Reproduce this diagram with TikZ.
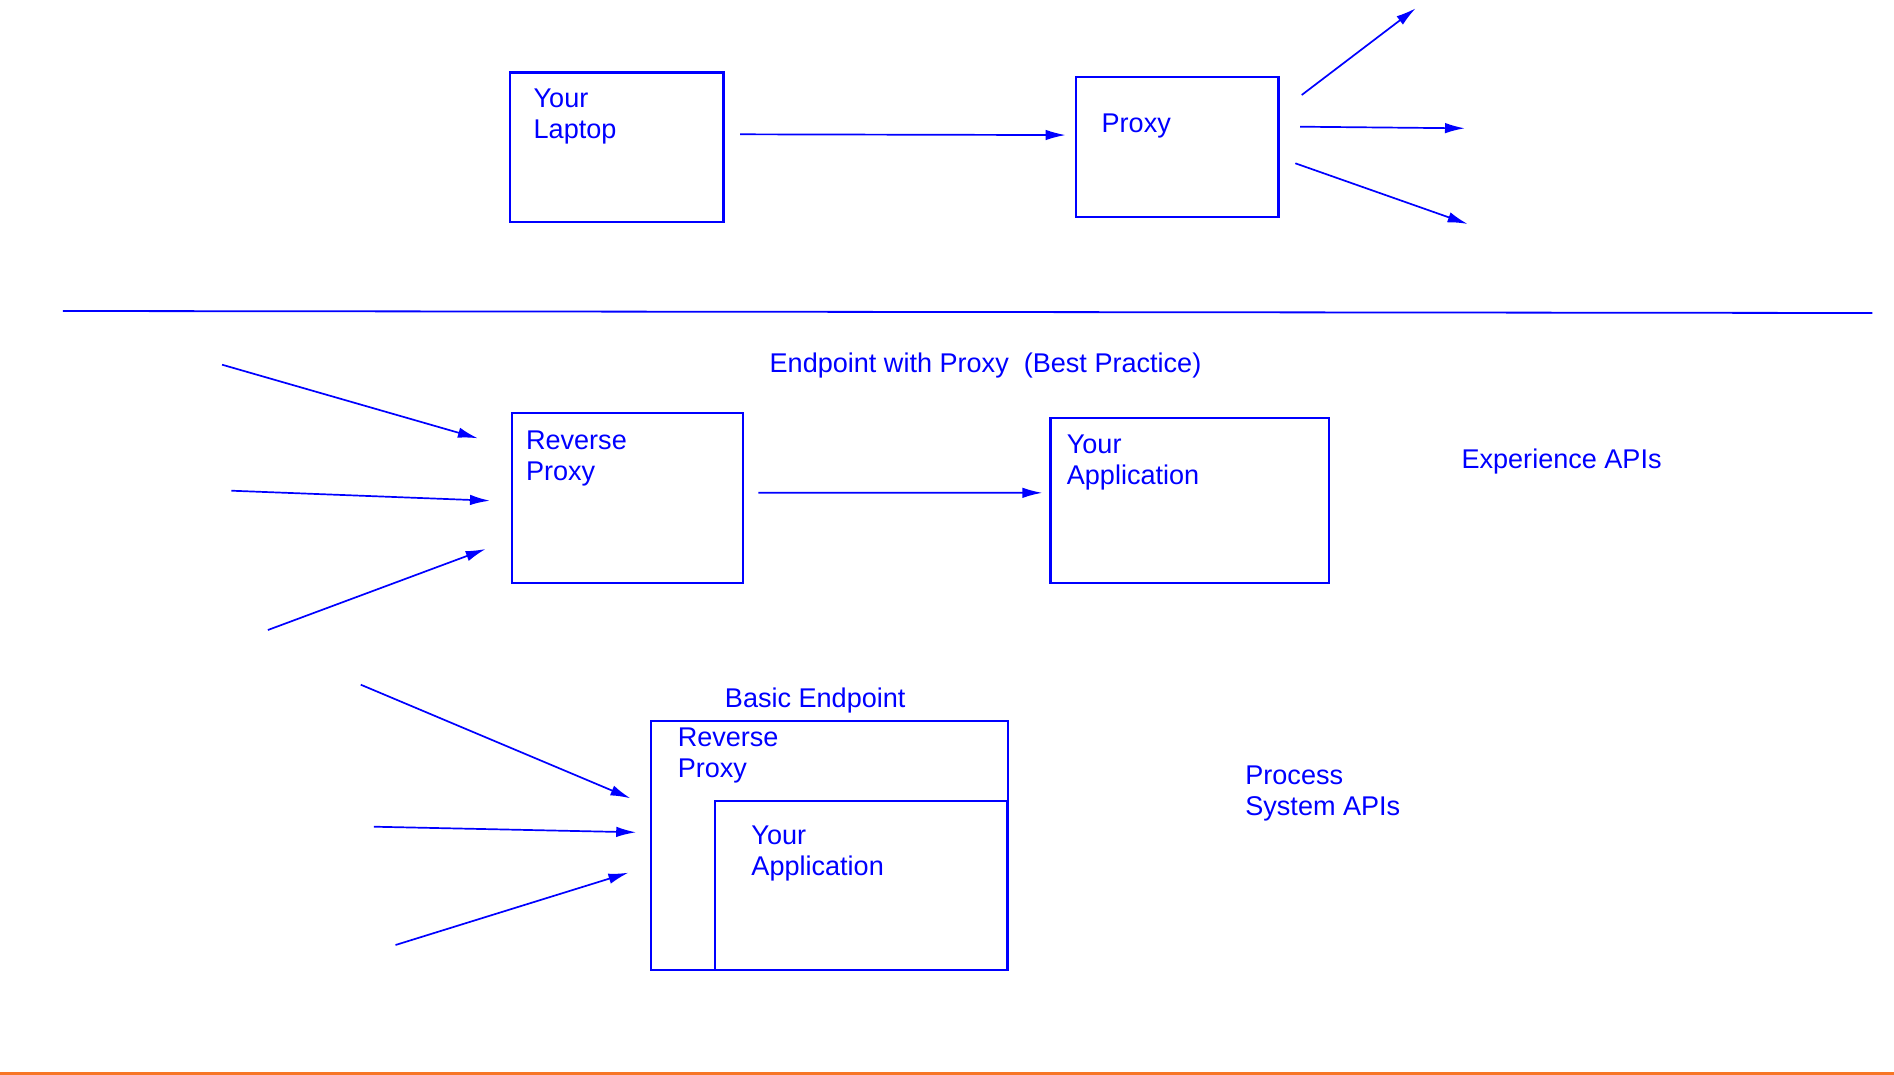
\documentclass[tikz,border=0pt]{standalone}
\usepackage{fontspec}
\setmainfont{Liberation Sans}
\usepackage{tikz}
\usetikzlibrary{arrows.meta,positioning}
\definecolor{line}{RGB}{0,0,255}
\definecolor{rule}{RGB}{247,118,38}

\begin{document}
\begin{tikzpicture}[-,auto,x=0.2mm,y=-0.2mm]
\tikzstyle{box}=[rectangle,draw=line,line width=0.45mm,anchor=north west,inner sep=0pt]
\tikzstyle{txt}=[anchor=north west,inner sep=0pt,align=left,text=line,font=\fontsize{15.4}{17.6}\selectfont]
\tikzstyle{arr}=[draw=line,line width=0.34mm,-{Latex[length=4mm,width=2.1mm]}]

\useasboundingbox (0,0) rectangle (1894,1075);

% top row
\node [box] (laptop) at(508.6,71.3)[minimum width=42.76mm,minimum height=29.94mm] {};
\node [box] (proxy) at(1074.7,75.7)[minimum width=40.52mm,minimum height=28mm] {};
\node [txt] (laptopT) at(533.3,88.3) {Your\\Laptop};
\node [txt] (proxyT) at(1101.3,114) {Proxy};

\coordinate (o1) at(1301.7,95);
\coordinate (o1t) at(1415.7,8.3);
\coordinate (o2) at(1300,126.7);
\coordinate (o2t) at(1465,128.3);
\coordinate (o3) at(1295.3,163.3);
\coordinate (o3t) at(1467.7,224);

\draw [arr,shorten <=3.1mm,shorten >=1.8mm] ([yshift=2.6mm]laptop.east) -- ([yshift=2.35mm]proxy.west);
\draw [arr] (o1) -- (o1t);
\draw [arr] (o2) -- (o2t);
\draw [arr] (o3) -- (o3t);

% separator
\coordinate (sepL) at(62.8,311);
\coordinate (sepR) at(1872.4,313);
\draw [line,line width=0.36mm] (sepL) -- (sepR);

% endpoint with proxy
\node [txt] (title) at(769.3,353) {Endpoint with Proxy\ \ (Best Practice)};
\node [box] (rp) at(510.7,411.7)[minimum width=46.28mm,minimum height=34mm] {};
\node [box] (app) at(1049.4,416.7)[minimum width=55.76mm,minimum height=33mm] {};
\node [txt] (rpT) at(525.7,430.7) {Reverse\\Proxy};
\node [txt] (appT) at(1066.5,434.3) {Your\\Application};
\node [txt] (expT) at(1461.2,448.3) {Experience APIs};

\coordinate (i1) at(222.1,364.7);
\coordinate (i1t) at(477.9,438.3);
\coordinate (i2) at(231.4,490.7);
\coordinate (i2t) at(490,500.7);
\coordinate (i3) at(267.9,630);
\coordinate (i3t) at(485.7,549);

\draw [arr] (i1) -- (i1t);
\draw [arr] (i2) -- (i2t);
\draw [arr] (i3) -- (i3t);
\draw [arr,shorten <=2.8mm,shorten >=1.4mm] ([yshift=1mm]rp.east) -- ([yshift=1.5mm]app.west);

% basic endpoint
\node [txt] (basicT) at(724.6,687.3) {Basic Endpoint};
\node [box] (rpb) at(650.1,720)[minimum width=71.38mm,minimum height=49.8mm] {};
\node [box] (appb) at(713.8,800)[minimum width=58.44mm,minimum height=33.8mm] {};
\node [txt] (rpbT) at(677.4,727.3) {Reverse\\Proxy};
\node [txt] (appbT) at(751.1,826) {Your\\Application};
\node [txt] (procT) at(1245,765.7) {Process\\System APIs};

\coordinate (j1) at(360.8,684.7);
\coordinate (j1t) at(630.5,798.3);
\coordinate (j2) at(373.8,826.7);
\coordinate (j2t) at(636.2,832.3);
\coordinate (j3) at(395.5,945);
\coordinate (j3t) at(628.4,872.7);

\draw [arr] (j1) -- (j1t);
\draw [arr] (j2) -- (j2t);
\draw [arr] (j3) -- (j3t);

% bottom rule
\coordinate (ruleL) at(0,1073.5);
\coordinate (ruleR) at(1894,1073.5);
\draw [rule,line width=0.6mm] (ruleL) -- (ruleR);
\end{tikzpicture}
\end{document}
